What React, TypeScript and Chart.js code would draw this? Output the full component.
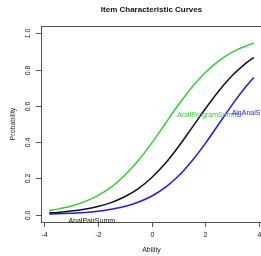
import React, { useEffect, useRef } from "react";
import { Chart, registerables } from "chart.js";

Chart.register(...registerables);

const abilities = [-3.8, -3.5, -3, -2.5, -2, -1.5, -1, -0.5, 0, 0.5, 1, 1.5, 2, 2.5, 3, 3.5, 3.8];
const analProgramSumm = [0.024, 0.031, 0.047, 0.071, 0.105, 0.152, 0.216, 0.297, 0.393, 0.5, 0.606, 0.703, 0.784, 0.848, 0.896, 0.93, 0.945];
const analPairSumm = [0.01, 0.013, 0.02, 0.03, 0.045, 0.067, 0.099, 0.143, 0.204, 0.281, 0.375, 0.479, 0.584, 0.682, 0.767, 0.834, 0.866];
const algAnalSumm = [0.004, 0.005, 0.008, 0.013, 0.019, 0.03, 0.045, 0.069, 0.102, 0.149, 0.213, 0.296, 0.393, 0.5, 0.607, 0.705, 0.756];

const xTicks = [-4, -2, 0, 2, 4];
const xTickLabels = ["-4", "-2", "0", "2", "4"];
const yTicks = [0, 0.2, 0.4, 0.6, 0.8, 1.0];
const yTickLabels = ["0.0", "0.2", "0.4", "0.6", "0.8", "1.0"];

const curveLabels = ["AnalPairSumm", "AnalProgramSumm", "AlgAnalSumm"];
const curveLabelX = [-2.22, 2.09, 3.8];
const curveLabelY = [-0.033, 0.552, 0.562];
const curveColors = ["#111111", "#33d033", "#1a1aff"];

const titleText = "Item Characteristic Curves";
const xTitle = "Ability";
const yTitle = "Probability";

const W = 300;
const H = 256;
const FONT = '"Liberation Sans", Arial, Helvetica, sans-serif';

const decorPlugin = {
  id: "rdecor",
  afterDraw(chart: any) {
    const { ctx, chartArea: ca, scales } = chart;
    const xs = scales.x;
    const ys = scales.y;
    ctx.save();
    ctx.strokeStyle = "#555";
    ctx.lineWidth = 1;
    ctx.strokeRect(Math.round(ca.left) + 0.5, Math.round(ca.top) + 0.5, ca.right - ca.left, ca.bottom - ca.top);
    ctx.fillStyle = "#222";
    ctx.font = `7px ${FONT}`;
    ctx.textAlign = "center";
    ctx.textBaseline = "middle";
    xTicks.forEach((v, i) => {
      const px = Math.round(xs.getPixelForValue(v)) + 0.5;
      ctx.beginPath();
      ctx.moveTo(px, ca.bottom);
      ctx.lineTo(px, ca.bottom + 5);
      ctx.stroke();
      ctx.fillText(xTickLabels[i], px, ca.bottom + 13);
    });
    yTicks.forEach((v, i) => {
      const py = Math.round(ys.getPixelForValue(v)) + 0.5;
      ctx.beginPath();
      ctx.moveTo(ca.left - 5, py);
      ctx.lineTo(ca.left, py);
      ctx.stroke();
      ctx.save();
      ctx.translate(ca.left - 13, py);
      ctx.rotate(-Math.PI / 2);
      ctx.fillText(yTickLabels[i], 0, 0);
      ctx.restore();
    });
    const cx = (ca.left + ca.right) / 2;
    const cy = (ca.top + ca.bottom) / 2;
    ctx.fillText(xTitle, cx, ca.bottom + 28);
    ctx.save();
    ctx.translate(ca.left - 28, cy);
    ctx.rotate(-Math.PI / 2);
    ctx.fillText(yTitle, 0, 0);
    ctx.restore();
    ctx.font = `bold 8px ${FONT}`;
    ctx.fillStyle = "#111";
    ctx.fillText(titleText, cx, ca.top - 16);
    ctx.font = `7px ${FONT}`;
    curveLabels.forEach((t, i) => {
      ctx.fillStyle = curveColors[i];
      ctx.fillText(t, xs.getPixelForValue(curveLabelX[i]), ys.getPixelForValue(curveLabelY[i]));
    });
    ctx.restore();
  },
};

export default function App() {
  const ref = useRef<HTMLCanvasElement | null>(null);
  useEffect(() => {
    if (!ref.current) return;
    const mk = (vals: number[]) => abilities.map((a, i) => ({ x: a, y: vals[i] }));
    const chart = new Chart(ref.current, {
      type: "line",
      data: {
        datasets: [
          { label: curveLabels[0], data: mk(analPairSumm), borderColor: curveColors[0], borderWidth: 1.5 },
          { label: curveLabels[1], data: mk(analProgramSumm), borderColor: curveColors[1], borderWidth: 1.5 },
          { label: curveLabels[2], data: mk(algAnalSumm), borderColor: curveColors[2], borderWidth: 1.5 },
        ],
      },
      options: {
        responsive: false,
        animation: false,
        devicePixelRatio: 1,
        layout: { padding: { left: 41, top: 26, right: W - 262, bottom: H - 222 } },
        elements: { point: { radius: 0 }, line: { cubicInterpolationMode: "monotone", fill: false } },
        plugins: { legend: { display: false }, tooltip: { enabled: false }, title: { display: false } },
        scales: {
          x: { type: "linear", display: false, min: -4.104, max: 4.104 },
          y: { type: "linear", display: false, min: -0.04, max: 1.04 },
        },
      },
      plugins: [decorPlugin],
    });
    return () => chart.destroy();
  }, []);
  return (
    <div style={{ position: "absolute", left: 0, top: 0, width: 261, height: 256, overflow: "hidden", background: "#fff" }}>
      <canvas ref={ref} width={W} height={H} style={{ display: "block" }} />
    </div>
  );
}
